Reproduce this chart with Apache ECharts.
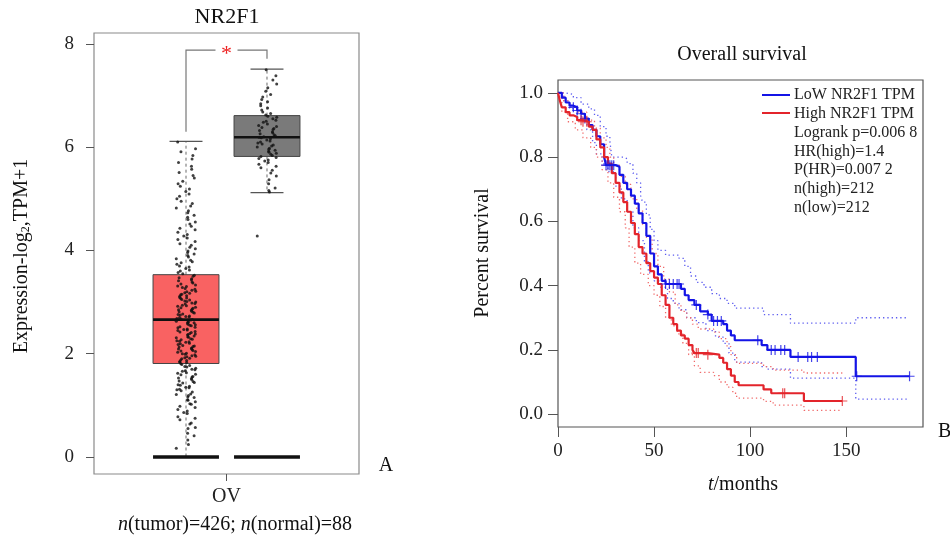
<!DOCTYPE html>
<html>
<head>
<meta charset="utf-8">
<script src="https://cdn.jsdelivr.net/npm/echarts@6/dist/echarts.min.js"></script>
<style>
html, body { margin: 0; padding: 0; background: #fff; }
#main { width: 950px; height: 539px; }
</style>
</head>
<body>
<div id="main"></div>
<script>
// ---- panel A: expression box plot ----
var groupNames = ['tumor', 'normal'];
var xTickLabel = 'OV';
var yTicksA = [0, 2, 4, 6, 8];
// [lower whisker, Q1, median, Q3, upper whisker]
var boxStats = [
    [0, 1.81, 2.66, 3.53, 6.11],
    [5.12, 5.82, 6.19, 6.61, 7.51]
];
var zeroLevel = 0;
var tumorValues = [
    0.17, 0.24, 0.33, 0.41, 0.46, 0.55, 0.57, 0.64, 0.66, 0.72, 0.75, 0.78, 0.84, 0.86, 0.89, 0.92, 0.96, 0.98,
    1.02, 1.03, 1.07, 1.1, 1.11, 1.15, 1.16, 1.19, 1.21, 1.22, 1.26, 1.28, 1.3, 1.31, 1.34, 1.35, 1.37, 1.39,
    1.4, 1.43, 1.44, 1.46, 1.47, 1.5, 1.52, 1.53, 1.55, 1.56, 1.59, 1.6, 1.62, 1.63, 1.66, 1.67, 1.69, 1.7,
    1.72, 1.74, 1.75, 1.77, 1.79,
    1.81, 1.83, 1.84, 1.85, 1.87, 1.88, 1.9, 1.91, 1.92, 1.94, 1.95, 1.96, 1.98, 1.99, 2.0, 2.01, 2.03, 2.04,
    2.05, 2.06, 2.08, 2.09, 2.1, 2.11, 2.13, 2.14, 2.15, 2.16, 2.18, 2.19, 2.2, 2.22, 2.23, 2.24, 2.25, 2.27,
    2.28, 2.29, 2.31, 2.32, 2.33, 2.34, 2.36, 2.37, 2.38, 2.39, 2.41, 2.42, 2.43, 2.45, 2.46, 2.47, 2.48, 2.5,
    2.51, 2.52, 2.54, 2.55, 2.56, 2.57, 2.59, 2.6, 2.61, 2.62, 2.63, 2.65, 2.66, 2.67, 2.68, 2.7, 2.71, 2.72,
    2.73, 2.75, 2.76, 2.77, 2.79, 2.8, 2.81, 2.82, 2.84, 2.85, 2.86, 2.88, 2.89, 2.9, 2.92, 2.93, 2.94, 2.96,
    2.97, 2.98, 3.0, 3.01, 3.02, 3.04, 3.05, 3.07, 3.08, 3.09, 3.11, 3.12, 3.14, 3.15, 3.17, 3.18, 3.2, 3.21,
    3.23, 3.25, 3.26, 3.28, 3.3, 3.31, 3.33, 3.35, 3.37, 3.39, 3.41, 3.43, 3.45, 3.47, 3.5,
    3.52, 3.55, 3.57, 3.6, 3.62, 3.65, 3.68, 3.7, 3.73, 3.76, 3.78, 3.81, 3.84, 3.87, 3.9, 3.93, 3.96, 3.99,
    4.03, 4.06, 4.1, 4.13, 4.17, 4.21, 4.24, 4.28, 4.31, 4.35, 4.4, 4.43, 4.47, 4.51, 4.55, 4.6, 4.64, 4.68,
    4.73, 4.77, 4.82, 4.86, 4.91, 4.95, 5.0, 5.05, 5.09, 5.14, 5.19, 5.24, 5.29, 5.34, 5.4, 5.45, 5.51, 5.57,
    5.63, 5.7, 5.77, 5.84, 5.91, 5.97, 6.1
];
var normalValues = [
    4.28, 5.13, 5.16, 5.21, 5.29, 5.37, 5.44, 5.5, 5.55, 5.6, 5.63, 5.67, 5.7, 5.73, 5.75, 5.78, 5.8, 5.82,
    5.84, 5.86, 5.88, 5.9, 5.92, 5.94, 5.96, 5.98, 6.0, 6.02, 6.04, 6.06, 6.08, 6.1, 6.12, 6.14, 6.16, 6.18,
    6.19, 6.2, 6.22, 6.24, 6.26, 6.28, 6.3, 6.32, 6.34, 6.36, 6.38, 6.4, 6.42, 6.45, 6.48, 6.5, 6.52, 6.55,
    6.58, 6.6, 6.62, 6.65, 6.68, 6.72, 6.76, 6.8, 6.84, 6.88, 6.92, 6.97, 7.02, 7.08, 7.15, 7.22, 7.3, 7.38, 7.5
];
// significance bracket: [from group, its foot, top, to group, its foot]
var bracket = [0, 6.30, 7.88, 1, 7.71];

// ---- panel B: Kaplan-Meier ----
var xTicksB = [0, 50, 100, 150];
var yTicksB = [0, 0.2, 0.4, 0.6, 0.8, 1.0];
var legendLines = ['LoW NR2F1 TPM', 'High NR2F1 TPM', 'Logrank p=0.006 8', 'HR(high)=1.4', 'P(HR)=0.007 2', 'n(high)=212', 'n(low)=212'];
var lowCurve = [
    [0, 1.0], [2, 0.985], [4, 0.97], [6, 0.96], [8, 0.955], [10, 0.945], [12, 0.935], [14, 0.92], [16, 0.9],
    [18, 0.885], [20, 0.865], [22, 0.84], [24, 0.8], [25, 0.775], [30, 0.77], [32, 0.745], [34, 0.72], [36, 0.7],
    [38, 0.68], [40, 0.655], [42, 0.625], [44, 0.595], [46, 0.555], [48, 0.5], [50, 0.46], [52, 0.435],
    [54, 0.415], [56, 0.405], [64, 0.39], [66, 0.37], [68, 0.355], [71, 0.34], [74, 0.32], [78, 0.31],
    [80, 0.29], [86, 0.28], [88, 0.26], [90, 0.245], [92, 0.23], [106, 0.215], [109, 0.2], [121, 0.178],
    [155, 0.118], [183, 0.118]
];
var highCurve = [
    [0, 1.0], [1, 0.975], [2, 0.955], [4, 0.94], [6, 0.93], [8, 0.925], [10, 0.915], [13, 0.91], [16, 0.895],
    [18, 0.885], [20, 0.855], [22, 0.83], [24, 0.8], [26, 0.78], [28, 0.75], [30, 0.72], [32, 0.69], [34, 0.66],
    [36, 0.63], [38, 0.595], [40, 0.56], [42, 0.52], [44, 0.5], [46, 0.47], [48, 0.445], [50, 0.425],
    [52, 0.405], [54, 0.37], [56, 0.34], [58, 0.3], [60, 0.28], [62, 0.26], [64, 0.245], [66, 0.235],
    [68, 0.215], [70, 0.2], [71, 0.19], [78, 0.185], [84, 0.175], [86, 0.16], [88, 0.14], [90, 0.12],
    [92, 0.1], [94, 0.09], [107, 0.077], [111, 0.065], [128, 0.041], [148, 0.041]
];
var lowUpper = [
    [0, 1.0], [4, 0.995], [8, 0.985], [12, 0.965], [16, 0.95], [19, 0.93], [22, 0.895], [25, 0.865], [27, 0.85],
    [28, 0.8], [34, 0.795], [36, 0.78], [39, 0.75], [41, 0.72], [43, 0.68], [44, 0.66], [46, 0.62], [48, 0.575],
    [50, 0.54], [52, 0.51], [56, 0.495], [63, 0.485], [66, 0.46], [69, 0.43], [72, 0.41], [76, 0.395],
    [80, 0.375], [84, 0.36], [88, 0.345], [92, 0.33], [107, 0.31], [121, 0.283], [155, 0.3], [182, 0.3]
];
var lowLower = [
    [0, 1.0], [3, 0.975], [6, 0.95], [10, 0.925], [15, 0.885], [18, 0.845], [20, 0.81], [23, 0.78], [26, 0.755],
    [30, 0.71], [33, 0.67], [36, 0.63], [39, 0.58], [42, 0.54], [45, 0.475], [47, 0.44], [50, 0.415],
    [53, 0.395], [57, 0.36], [60, 0.345], [63, 0.325], [67, 0.3], [72, 0.285], [77, 0.26], [82, 0.24],
    [86, 0.22], [89, 0.19], [92, 0.162], [106, 0.148], [109, 0.14], [121, 0.112], [155, 0.047], [182, 0.047]
];
var highUpper = [
    [0, 1.0], [3, 0.975], [6, 0.955], [10, 0.94], [15, 0.915], [19, 0.89], [22, 0.86], [25, 0.83], [27, 0.8],
    [29, 0.775], [32, 0.74], [35, 0.715], [38, 0.67], [41, 0.635], [44, 0.59], [46, 0.55], [49, 0.5],
    [52, 0.46], [55, 0.42], [58, 0.38], [61, 0.34], [64, 0.32], [67, 0.3], [70, 0.28], [73, 0.265],
    [81, 0.255], [84, 0.235], [88, 0.21], [90, 0.185], [93, 0.158], [107, 0.148], [112, 0.137], [128, 0.128],
    [148, 0.128]
];
var highLower = [
    [0, 1.0], [2, 0.94], [5, 0.91], [9, 0.885], [13, 0.86], [17, 0.83], [20, 0.8], [23, 0.76], [26, 0.72],
    [29, 0.675], [32, 0.63], [35, 0.58], [37, 0.52], [40, 0.47], [43, 0.435], [47, 0.4], [50, 0.37],
    [53, 0.335], [56, 0.3], [59, 0.275], [62, 0.25], [65, 0.22], [68, 0.185], [71, 0.15], [74, 0.13],
    [81, 0.12], [84, 0.1], [88, 0.084], [91, 0.065], [93, 0.05], [107, 0.04], [112, 0.028], [128, 0.012],
    [147, 0.012]
];
var lowCensored = [
    [8, 0.955], [10, 0.945], [12, 0.935], [14, 0.92], [25, 0.775], [26, 0.775], [27, 0.775], [28, 0.775],
    [29, 0.775], [56, 0.405], [58, 0.405], [60, 0.405], [62, 0.405], [63, 0.405], [72, 0.34], [78, 0.31],
    [81, 0.29], [83, 0.29], [85, 0.29], [104, 0.23], [111, 0.2], [113, 0.2], [116, 0.2], [118, 0.2],
    [125, 0.178], [130, 0.178], [132, 0.178], [135, 0.178], [155.5, 0.118], [183, 0.118]
];
var highCensored = [
    [12, 0.915], [13, 0.91], [15, 0.91], [72, 0.19], [73, 0.19], [78, 0.185], [117, 0.065], [118, 0.065],
    [148, 0.041]
];

var FONT = 'Liberation Serif';
var BLUE = '#1414e6', RED = '#e3242b';
var boxFill = ['#f96262', '#7a7a7a'];
var plusPath = 'path://M-0.12,-1H0.12V-0.12H1V0.12H0.12V1H-0.12V0.12H-1V-0.12H-0.12Z';

function jitter(values, g) {
    // spread dots sideways around the group centre (fixed quadratic permutation, no randomness)
    return values.map(function (v, i) {
        var f = ((i * i * 17 + i * 43) % 97) / 96;
        return [g + (f - 0.5) * 0.24, v];
    });
}

function renderBox(params, api) {
    var g = api.value(0);
    var lo = api.coord([g, api.value(1)]);
    var q1 = api.coord([g, api.value(2)]);
    var md = api.coord([g, api.value(3)]);
    var q3 = api.coord([g, api.value(4)]);
    var hi = api.coord([g, api.value(5)]);
    var z0 = api.coord([g, zeroLevel]);
    var half = api.size([0.407, 0])[0];
    var cap = half / 2;
    var x = q1[0];
    var dash = { stroke: '#6a6a6a', lineWidth: 1, lineDash: [3, 3] };
    var solid = { stroke: '#555', lineWidth: 1.2 };
    var kids = [
        { type: 'line', shape: { x1: x, y1: q3[1], x2: x, y2: hi[1] }, style: dash },
        { type: 'line', shape: { x1: x, y1: q1[1], x2: x, y2: lo[1] }, style: dash },
        { type: 'line', shape: { x1: x - cap, y1: hi[1], x2: x + cap, y2: hi[1] }, style: solid },
        { type: 'rect', shape: { x: x - half, y: q3[1], width: half * 2, height: q1[1] - q3[1] },
          style: { fill: boxFill[params.dataIndex], stroke: '#444', lineWidth: 1 } },
        { type: 'line', shape: { x1: x - half, y1: md[1], x2: x + half, y2: md[1] }, style: { stroke: '#111', lineWidth: 2.6 } },
        { type: 'line', shape: { x1: x - half, y1: z0[1], x2: x + half, y2: z0[1] }, style: { stroke: '#111', lineWidth: 3.4 } }
    ];
    if (api.value(1) > zeroLevel) {
        kids.push({ type: 'line', shape: { x1: x - cap, y1: lo[1], x2: x + cap, y2: lo[1] }, style: solid });
    }
    return { type: 'group', children: kids };
}

function renderBracket(params, api) {
    var a = api.coord([api.value(0), api.value(1)]);
    var b = api.coord([api.value(0), api.value(2)]);
    var c = api.coord([api.value(3), api.value(2)]);
    var d = api.coord([api.value(3), api.value(4)]);
    var mid = (b[0] + c[0]) / 2;
    var st = { stroke: '#777', lineWidth: 1.2, fill: null };
    return {
        type: 'group',
        children: [
            { type: 'polyline', shape: { points: [a, b, [mid - 11, b[1]]] }, style: st },
            { type: 'polyline', shape: { points: [[mid + 11, c[1]], c, d] }, style: st },
            { type: 'text', x: mid, y: b[1] + 4, style: { text: '*', fill: '#ee2222', fontSize: 22, fontFamily: FONT, align: 'center', verticalAlign: 'middle' } }
        ]
    };
}

function ciSeries(data, color) {
    return {
        type: 'line', xAxisIndex: 1, yAxisIndex: 1, step: 'end', data: data, showSymbol: false, silent: true,
        lineStyle: { color: color, width: 1.3, type: [1.3, 3] }, z: 2
    };
}

function curveSeries(name, data, color) {
    return {
        name: name, type: 'line', xAxisIndex: 1, yAxisIndex: 1, step: 'end', data: data, showSymbol: false,
        lineStyle: { color: color, width: 2.2 }, z: 3
    };
}

function censorSeries(data, color) {
    return {
        type: 'scatter', xAxisIndex: 1, yAxisIndex: 1, data: data, symbol: plusPath, symbolSize: 10,
        itemStyle: { color: color }, z: 4
    };
}

var labelStyle = { fontFamily: FONT, fontSize: 19, color: '#222' };
var tickStyle = { color: '#555', width: 1 };
var hiddenLine = { show: false, onZero: false };

var chart = echarts.init(document.getElementById('main'));
chart.setOption({
    animation: false,
    backgroundColor: '#fff',
    grid: [
        { left: 94, top: 33, width: 265, height: 441, show: true, borderColor: '#8a8a8a', borderWidth: 1.2 },
        { left: 558, top: 80, width: 365, height: 347, show: true, borderColor: '#555', borderWidth: 1.2 }
    ],
    xAxis: [
        {
            gridIndex: 0, type: 'value', min: -1.136, max: 2.136,
            axisLine: hiddenLine, splitLine: { show: false },
            axisTick: { show: true, customValues: [0.5], length: 7, lineStyle: tickStyle },
            axisLabel: { customValues: [0.5], margin: 13, fontSize: 20, fontFamily: FONT, color: '#222', formatter: function () { return xTickLabel; } }
        },
        {
            gridIndex: 1, type: 'value', min: 0, max: 190,
            axisLine: hiddenLine, splitLine: { show: false },
            axisTick: { show: true, customValues: xTicksB, length: 10, lineStyle: tickStyle },
            axisLabel: Object.assign({ customValues: xTicksB, margin: 15 }, labelStyle)
        }
    ],
    yAxis: [
        {
            gridIndex: 0, type: 'value', min: -0.33, max: 8.21,
            axisLine: hiddenLine, splitLine: { show: false },
            axisTick: { show: true, customValues: yTicksA, length: 8, lineStyle: tickStyle },
            axisLabel: Object.assign({ customValues: yTicksA, margin: 20 }, labelStyle)
        },
        {
            gridIndex: 1, type: 'value', min: -0.04, max: 1.04,
            axisLine: hiddenLine, splitLine: { show: false },
            axisTick: { show: true, customValues: yTicksB, length: 10, lineStyle: tickStyle },
            axisLabel: Object.assign({ customValues: yTicksB, margin: 15, formatter: function (v) { return v.toFixed(1); } }, labelStyle)
        }
    ],
    series: [
        {
            type: 'custom', xAxisIndex: 0, yAxisIndex: 0, renderItem: renderBox, silent: true, z: 2,
            data: boxStats.map(function (s, i) { return [i].concat(s); })
        },
        {
            name: groupNames[0], type: 'scatter', xAxisIndex: 0, yAxisIndex: 0, data: jitter(tumorValues, 0),
            symbolSize: 3, itemStyle: { color: '#111' }, z: 3
        },
        {
            name: groupNames[1], type: 'scatter', xAxisIndex: 0, yAxisIndex: 0, data: jitter(normalValues, 1),
            symbolSize: 3, itemStyle: { color: '#111' }, z: 3
        },
        {
            type: 'custom', xAxisIndex: 0, yAxisIndex: 0, renderItem: renderBracket, silent: true, z: 4,
            data: [bracket]
        },
        ciSeries(lowUpper, '#5c5cf0'),
        ciSeries(lowLower, '#5c5cf0'),
        ciSeries(highUpper, '#f06a6a'),
        ciSeries(highLower, '#f06a6a'),
        curveSeries(legendLines[0], lowCurve, BLUE),
        curveSeries(legendLines[1], highCurve, RED),
        censorSeries(lowCensored, BLUE),
        censorSeries(highCensored, RED)
    ],
    graphic: [
        { type: 'text', x: 227, y: 17, style: { text: 'NR2F1', fontFamily: FONT, fontSize: 22, fill: '#111', align: 'center', verticalAlign: 'middle' } },
        {
            type: 'text', x: 22, y: 256, rotation: Math.PI / 2,
            style: {
                text: 'Expression-log{s|2},TPM+1', fontFamily: FONT, fontSize: 20, fill: '#111', align: 'center', verticalAlign: 'middle',
                rich: { s: { fontFamily: FONT, fontSize: 12, verticalAlign: 'bottom', padding: [8, 0, 0, 0] } }
            }
        },
        {
            type: 'text', x: 235, y: 525,
            style: {
                text: '{i|n}(tumor)=426; {i|n}(normal)=88', fontFamily: FONT, fontSize: 20, fill: '#111', align: 'center', verticalAlign: 'middle',
                rich: { i: { fontFamily: FONT, fontSize: 20, fontStyle: 'italic' } }
            }
        },
        { type: 'text', x: 386, y: 466, style: { text: 'A', fontFamily: FONT, fontSize: 20, fill: '#111', align: 'center', verticalAlign: 'middle' } },
        { type: 'text', x: 742, y: 55, style: { text: 'Overall survival', fontFamily: FONT, fontSize: 20, fill: '#111', align: 'center', verticalAlign: 'middle' } },
        { type: 'text', x: 483, y: 253, rotation: Math.PI / 2, style: { text: 'Percent survival', fontFamily: FONT, fontSize: 20, fill: '#111', align: 'center', verticalAlign: 'middle' } },
        {
            type: 'text', x: 743, y: 485,
            style: {
                text: '{i|t}/months', fontFamily: FONT, fontSize: 20, fill: '#111', align: 'center', verticalAlign: 'middle',
                rich: { i: { fontFamily: FONT, fontSize: 20, fontStyle: 'italic' } }
            }
        },
        { type: 'text', x: 938, y: 432, style: { text: 'B', fontFamily: FONT, fontSize: 20, fill: '#111', align: 'left', verticalAlign: 'middle' } },
        { type: 'line', shape: { x1: 762, y1: 95, x2: 790, y2: 95 }, style: { stroke: BLUE, lineWidth: 2 } },
        { type: 'line', shape: { x1: 762, y1: 113, x2: 790, y2: 113 }, style: { stroke: RED, lineWidth: 2 } }
    ].concat(legendLines.map(function (t, i) {
        return { type: 'text', x: 794, y: 95 + i * 18.8, style: { text: t, fontFamily: FONT, fontSize: 16, fill: '#222', verticalAlign: 'middle' } };
    }))
});
</script>
</body>
</html>
